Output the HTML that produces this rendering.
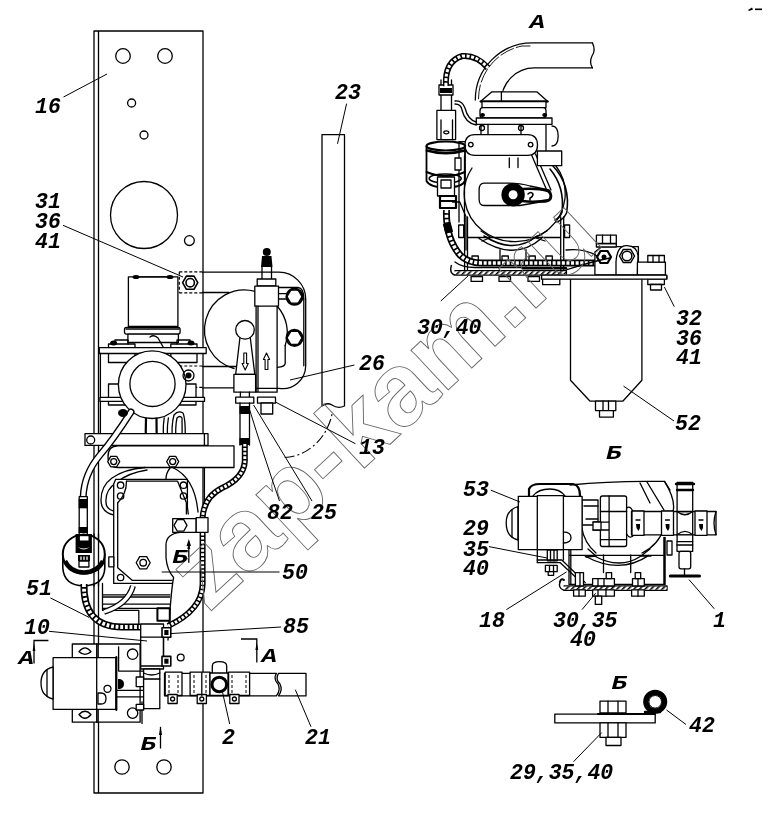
<!DOCTYPE html>
<html><head><meta charset="utf-8">
<style>
html,body{margin:0;padding:0;background:#fff;width:772px;height:815px;overflow:hidden}
svg{position:absolute;left:0;top:0;will-change:transform}
.l{fill:none;stroke:#000;stroke-width:1.3;stroke-linejoin:round;stroke-linecap:round}
.t{fill:none;stroke:#000;stroke-width:1}
.w{fill:#fff;stroke:#000;stroke-width:1.3;stroke-linejoin:round}
.k{fill:#000;stroke:none}
.d{fill:none;stroke:#000;stroke-width:1.2;stroke-dasharray:3 2}
text{font-family:"Liberation Mono",monospace;font-weight:bold;font-style:italic;font-size:21.5px;fill:#000}
text.s{font-size:20px}
.wm{font-family:"Liberation Sans",sans-serif;font-weight:bold;font-style:normal;font-size:103px;fill:none;stroke:#666;stroke-width:0.9}
</style></head>
<body>
<svg width="772" height="815" viewBox="0 0 772 815">
<defs><pattern id="hatch" patternUnits="userSpaceOnUse" width="4" height="4" patternTransform="rotate(45)"><rect width="4" height="4" fill="#fff"/><rect x="0" y="0" width="1.6" height="4" fill="#000"/></pattern></defs>
<!-- PLATE 16 -->
<g id="plate">
<path class="l" d="M94 31V793M98.5 31V793M94 31H203V793H94"/>
<circle class="l" cx="123" cy="56" r="7.3"/>
<circle class="l" cx="165" cy="56" r="7.3"/>
<circle class="l" cx="131.6" cy="103" r="4"/>
<circle class="l" cx="144" cy="135" r="4"/>
<circle class="l" cx="144" cy="215" r="33.5"/>
<circle class="l" cx="189.4" cy="240.6" r="4.9"/>
<circle class="l" cx="122" cy="767" r="7.2"/>
<circle class="l" cx="164" cy="767" r="7.2"/>
<circle class="l" cx="180.7" cy="657.5" r="3.4"/>
</g>
<!-- TUBE 23 -->
<path class="l" d="M322 406V134.7H344.5V406Q338 409 332 405Q327 402 322 406"/>

<!-- FUEL VALVE + BRACKET 26 -->
<g id="valve">
<path class="d" d="M179.3 271.8H202.5M179.3 292.8H202.5M179.3 271.8V292.8"/>
<path class="l" d="M202.5 272.2H279A27 27 0 0 1 305.7 299V365.8A23 23 0 0 1 279 388.3H255.6"/>
<path class="l" d="M303.8 299V365.8"/>
<path class="l" d="M202.5 292.5H229"/>
<path class="l" d="M202.5 366.5H236M202.5 387.8H234"/>
<path class="l" d="M255 291.3A40 40 0 1 0 234 368.5"/>
<path class="l" d="M277.5 306.5A40 40 0 0 1 285.2 345.5"/>
<path class="l" d="M285.2 345.5V363.4Q285 367 277.4 367.3"/>
<path class="l" d="M278.5 287.5H298Q303.8 288 303.8 299"/>
<!-- nuts right -->
<path class="l" d="M278.5 293.6H288M278.5 299H288"/>
<circle class="w" style="stroke-width:2.2" cx="294.5" cy="296.7" r="8"/><polygon class="l" points="302,296.7 298.2,303.2 290.8,303.2 287,296.7 290.8,290.2 298.2,290.2"/>
<circle class="w" style="stroke-width:2.2" cx="294.5" cy="337.9" r="8"/><polygon class="l" points="302,337.9 298.2,344.4 290.8,344.4 287,337.9 290.8,331.4 298.2,331.4"/>
<!-- spark-plug top -->
<circle class="k" cx="266.8" cy="252" r="4"/>
<path class="k" d="M262 256H271.5L272.5 267H261Z"/>
<path class="l" d="M262 267V279M271.5 267V279"/>
<rect class="w" x="257.2" y="279" width="18.6" height="7"/>
<!-- body -->
<rect class="w" x="254.8" y="286.2" width="23.7" height="20"/>
<path class="l" d="M256.1 306.2V392.2H277.1V306.2M258 306.2V392"/>
<!-- handle -->
<path class="w" d="M240 337L235.7 374.3H254.8L250.2 337Z"/>
<circle class="w" cx="245" cy="329.8" r="9.3"/>
<rect class="w" x="233.9" y="374.3" width="21.7" height="17.9"/>
<path class="w" style="stroke-width:1.1" d="M243.8 353H246.6V363.5H248.3L245.2 370L242.1 363.5H243.8Z"/>
<path class="w" style="stroke-width:1.1" d="M265.1 369.5H267.9V359.5H269.6L266.5 353L263.4 359.5H265.1Z"/>
<!-- fittings -->
<path class="l" d="M240.4 392.2V397.2M249.4 392.2V397.2"/>
<rect class="w" x="235.7" y="397.2" width="18.1" height="6"/>
<rect class="w" x="257.5" y="397.2" width="18" height="6"/>
<rect class="w" x="261" y="403" width="11.7" height="11"/>
<path class="l" d="M240 403V445M249.5 403V445"/>
<rect class="k" x="239.5" y="406" width="10.5" height="8"/>
<rect class="k" x="239.5" y="438" width="10.5" height="7"/>
</g>
<!-- ELECTROMAGNET + SENSOR -->
<g id="mag">
<polygon class="w" style="stroke-width:1.6" points="197.8,282.7 194,289.3 186.4,289.3 182.6,282.7 186.4,276.1 194,276.1"/>
<circle class="l" cx="190.2" cy="282.7" r="4.2" style="stroke-width:1.6"/>
<path class="d" d="M179.3 366H202.5M179.3 387.3H202.5M179.3 366V387.3"/>
<rect class="w" x="128.4" y="276.8" width="49.5" height="49.7"/>
<ellipse class="k" cx="136" cy="277" rx="3.5" ry="2"/>
<ellipse class="k" cx="170" cy="277" rx="3.5" ry="2"/>
<path class="l" d="M134 276.8H172"/>
<rect class="w" x="124.5" y="327.4" width="55.6" height="6.7" rx="2"/>
<path class="l" d="M126 329H179"/>
<rect class="w" x="127.9" y="334.1" width="50.5" height="8.4"/>
<path class="l" d="M150 337Q154 334 158 338Q162 345 166 352"/>
<rect class="w" x="108.5" y="344" width="26.5" height="18.5"/><rect class="w" x="170.8" y="344" width="26.2" height="18.5"/><path class="l" d="M115 344V340H128V344M177 344V340H190V344"/>
<ellipse class="k" cx="113.6" cy="343" rx="3.5" ry="2.5"/>
<ellipse class="k" cx="191" cy="343" rx="3.5" ry="2.5"/>
<rect class="w" x="99.3" y="347.6" width="106.9" height="5.9"/>
<path class="l" d="M100.4 353.5V433.6"/><rect class="w" x="108.5" y="384" width="17" height="21"/><rect class="w" x="179" y="384" width="17" height="21"/>
<rect class="w" x="100" y="397.4" width="104.5" height="4"/>
<circle class="w" cx="152.2" cy="384.7" r="33.8"/>
<circle class="l" cx="152.5" cy="383.9" r="22.6"/>
<circle class="k" cx="188.5" cy="375.5" r="3"/>
<circle class="l" cx="188.5" cy="375.5" r="5.5"/>
<path class="l" style="stroke-width:2.2" d="M146 418.7Q145 432 147 444.5M156.5 418.7Q156 432 158 444.5"/>
<path class="l" d="M164.2 418Q162 432 165 444.5M168.4 418Q166 432 169 444.5"/>
<path class="l" d="M172.5 444.5Q171 425 174 415Q178 410 183 413Q186 420 185 444.5M176 444.5Q175 426 177 418Q180 415 182 418Q182.5 430 181.5 444.5"/>
<rect class="w" x="85" y="433.6" width="123" height="11.8"/>
<circle class="l" cx="90.7" cy="440" r="4"/>

</g>
<!-- CONTROL BOX 50 + PUMP 51 -->
<g id="box">
<path class="l" d="M204.4 433.7V519"/>
<path class="w" d="M118 445.9H234V467.5H118Q108 467.5 108 456.7Q108 445.9 118 445.9Z"/>
<polygon class="w" points="119.7,461.6 116.7,466.8 110.7,466.8 107.7,461.6 110.7,456.4 116.7,456.4"/>
<circle class="l" cx="113.7" cy="461.6" r="3"/>
<polygon class="w" points="178.7,461.6 175.7,466.8 169.7,466.8 166.7,461.6 169.7,456.4 175.7,456.4"/>
<circle class="l" cx="172.7" cy="461.6" r="3"/>
<path class="l" d="M145 467.5Q125 469 112 478Q101 486 101 500Q101 512 113.7 515M147 470Q128 473 117 482Q105 490 106 502Q106 509 113.7 511"/>
<path class="l" d="M172.7 467.5Q195 478 198 512M170 468Q166 473 166 479"/>
<path class="w" d="M115.7 479.3H187.4V506.8L189 520V583.4H113.7V484Z"/>
<path class="l" d="M126.5 481.2H177.6L186.4 502.8V575M117.7 502.8V567.7L132.4 580.4H172"/>
<path class="l" d="M126.5 481.2Q126.5 494 117.7 502.8"/>
<circle class="l" cx="120.6" cy="485.2" r="3.2"/><circle class="l" cx="120.6" cy="496" r="3.2"/>
<circle class="l" cx="183.5" cy="485.2" r="3.2"/><circle class="l" cx="183.5" cy="496" r="3.2"/>
<circle class="l" cx="120.6" cy="577.5" r="3.2"/>
<polygon class="w" points="150.2,562.7 146.7,568.8 139.7,568.8 136.2,562.7 139.7,556.6 146.7,556.6"/>
<circle class="l" cx="143.2" cy="562.7" r="3.3"/>
<rect class="w" x="108.8" y="556.8" width="5" height="10"/>
<path class="w" style="stroke:none" d="M172.7 514.6H199V598H171.7Q171 590 173.6 577.5Q167 570 166 557.8V545Q166 534 180 532.3Z"/><path class="l" d="M180 532.3Q166 534 166 545V557.8Q167 570 173.6 577.5Q171 590 168 640"/>
<rect class="w" x="172.7" y="518.6" width="23.5" height="13.7"/>
<polygon class="w" points="187,525.4 183.7,531.2 177.3,531.2 174,525.4 177.3,519.6 183.7,519.6"/>
<!-- B arrow -->
<path class="t" style="stroke-width:1.3" d="M188.8 541.8V562.7"/>
<path class="k" d="M188.8 539L186.5 546H191Z"/>
<!-- below box -->
<path class="l" d="M102.5 583.4V610.4H138.8V624M103.5 594.9H169.8M103.5 597H169.8M103.5 604.2H169.8M103.5 608.3H169.8"/>
<path style="fill:none;stroke:#000;stroke-width:6" d="M133 586Q128 604 104 612"/>
<path style="fill:none;stroke:#fff;stroke-width:3.4" d="M133 586Q128 604 104 612"/>
<rect class="w" style="stroke-width:2" x="157.4" y="608.3" width="12.4" height="12.5"/>
<rect class="w" style="stroke-width:1.6" x="161.6" y="628" width="8.2" height="8.3"/><circle class="k" cx="165.7" cy="632" r="2"/>
<!-- hose 85 armored -->
<path style="fill:none;stroke:#000;stroke-width:6" d="M244.8 444V461Q244 478 222 488Q204 497 202.6 517.6V584.5Q202 610 168 626"/>
<path style="fill:none;stroke:#fff;stroke-width:3;stroke-dasharray:2.6 1.5" d="M244.8 444V461Q244 478 222 488Q204 497 202.6 517.6V584.5Q202 610 168 626"/>
<rect class="w" x="196.2" y="517.6" width="11.8" height="14.7"/>
<!-- pump ring 51 -->
<path style="fill:none;stroke:#000;stroke-width:7;stroke-linecap:round" d="M131 412Q113 440 100 455Q84 474 83.2 497"/>
<path style="fill:none;stroke:#fff;stroke-width:4.2;stroke-linecap:round" d="M131 412Q113 440 100 455Q84 474 83.2 497"/>
<ellipse class="k" cx="123" cy="413" rx="5" ry="4"/>
<rect class="w" x="79.2" y="496.6" width="8.1" height="39.7"/>
<rect class="k" x="78.7" y="499" width="9" height="9.3"/>
<rect class="k" x="78.7" y="527" width="9" height="6"/>
<path class="w" style="stroke-width:1.6" d="M62.8 554V568Q64 585.5 83.8 585.8Q104 585.5 104.8 568V554"/>
<ellipse class="w" style="stroke-width:2" cx="83.8" cy="554" rx="21" ry="19.6"/>
<path style="fill:none;stroke:#000;stroke-width:4.5" d="M65 561Q70 572 83.8 572.5Q98 572 103 561"/>
<path class="k" d="M75.6 534H91.9V553H75.6Z"/>
<rect x="79.9" y="536.2" width="8.6" height="4.3" fill="#fff"/>
<path d="M78 547Q83.8 552 89.5 547Q83.8 550 78 547Z" fill="#fff"/>
<rect class="w" x="79" y="561" width="9.9" height="6"/>
<path class="k" d="M78 555H90V561H78Z"/>
<path class="l" style="stroke:#fff" d="M81 557V559.5M84 557V559.5M87 557V559.5"/>
<path class="l" d="M94 534V586M98.5 534V586"/>
<!-- hose 51 armored -->
<path style="fill:none;stroke:#000;stroke-width:7" d="M84 584Q83 627 122 627H140"/>
<path style="fill:none;stroke:#fff;stroke-width:3.8;stroke-dasharray:2.8 1.8" d="M84 584Q83 627 122 627H140"/>
</g>
<!-- PUMP ASSEMBLY (bottom) -->
<g id="pump">
<rect class="w" x="72.3" y="644" width="67.8" height="78.2"/>
<path class="l" d="M96.7 644V722.2M98.2 644V722.2"/>
<path class="l" d="M79 651.7Q85 644 91 651.7Q85 657 79 651.7M79 714.5Q85 708 91 714.5Q85 722 79 714.5"/>
<circle class="w" cx="132.6" cy="654.2" r="5.2"/>
<circle class="w" cx="132.6" cy="713.1" r="5.2"/>
<path class="l" d="M118.6 646.8V671.1H143"/>
<rect class="w" x="53.1" y="657.7" width="62.8" height="51.7"/>
<path class="l" style="stroke-width:2" d="M116.4 657.1V710.1"/>
<path class="l" d="M96.7 657.7V709.4"/>
<path class="w" d="M53 667Q41 670 41 683Q41 696 53 699Z"/>
<path class="l" d="M47 670V696"/>
<circle class="l" cx="107.5" cy="688.8" r="3.5"/>
<path class="w" d="M98 693H101Q106 693 106 698.4Q106 704 101 704H98Z"/>
<path class="k" d="M118 679H120Q124 680 124 684Q124 688 120 689H118Z"/>
<path class="l" d="M117 690.3H142.9M117 696.9H142.9"/>
<path class="l" d="M142 702V723.4"/>
<!-- fuel valve 10 -->
<rect class="w" x="140.7" y="624" width="22.8" height="45"/>
<path class="l" d="M140.7 637.2H163.5M140.7 666H163.5"/>
<rect class="w" x="143.6" y="669" width="16.2" height="10.2"/>
<path class="l" d="M143.6 673Q151.7 677 159.8 673"/>
<rect class="w" x="136.2" y="677" width="7.4" height="9.6"/>
<rect class="w" x="143.6" y="679.2" width="16.2" height="29.5"/>
<rect class="w" x="136.2" y="704.3" width="7.4" height="5.7"/>
<rect class="w" style="stroke-width:1.6" x="162" y="627.7" width="8.8" height="9.5"/><rect class="k" x="164.3" y="630" width="4.2" height="5"/>
<rect class="w" style="stroke-width:1.6" x="162" y="656.4" width="8.8" height="9.6"/><rect class="k" x="164.3" y="658.7" width="4.2" height="5"/>
<path class="l" d="M163.5 637.2V656.4"/>
<!-- pipe 21 -->
<path class="w" d="M164.5 673.3H276.4Q273 679 278 684Q281 690 276.4 695.9H164.5Z"/>
<path class="w" d="M278.5 673.3H306V695.9H278.5Q283 690 280 684Q275 679 278.5 673.3Z"/>
<rect class="w" x="165.2" y="672.1" width="16.8" height="23.4"/>
<rect class="w" x="190.1" y="672.1" width="19.9" height="23.4"/>
<rect class="w" x="228.6" y="672.1" width="21" height="23.4"/>
<path class="d" style="stroke-width:1" d="M169 675V693M178 675V693M194 675V693M206 675V693M232 675V693M246 675V693"/>
<rect class="w" x="168" y="694.5" width="9.2" height="9"/><circle class="l" cx="172.6" cy="699" r="2"/>
<rect class="w" x="197.2" y="694.5" width="9.2" height="9"/><circle class="l" cx="201.8" cy="699" r="2"/>
<rect class="w" x="229.8" y="694.5" width="9.2" height="9"/><circle class="l" cx="234.4" cy="699" r="2"/>
<path class="w" d="M212.3 673V666Q212.3 661.7 219.5 661.7Q226.7 661.7 226.7 666V673"/>
<rect class="w" x="210" y="673" width="18" height="22.5"/>
<circle class="w" style="stroke-width:3" cx="219.3" cy="684.5" r="7.3"/>
<path class="l" d="M201.8 673V695.5"/>
</g>
<g id="marks">
<path class="t" style="stroke-width:1.3" d="M34 663.6V640.5H48.4M241 639H256.8V662.6M160.5 748.6V727"/>
<path class="k" d="M160.5 726L159 735H162Z"/>
<path class="k" d="M34 643L32.6 651H35.4Z"/>
<path class="k" d="M256.8 642L255.4 650H258.2Z"/>
<path class="k" d="M188.8 541L187.4 549H190.2Z"/>
<path class="k" d="M748 10L752 7.5L753 9.5L749 11Z"/>
<rect class="k" x="755" y="8.5" width="7" height="1.6"/>
</g>
<!-- VIEW A -->
<g id="viewA">
<!-- bend pipe -->
<path class="l" d="M592.4 42.9H532.3A57 57 0 0 0 475.3 100"/>
<path class="l" style="stroke-width:0.9" d="M530 46H522A54 54 0 0 0 478.5 100" stroke-dasharray="14 3"/>
<path class="l" d="M592.4 67.9H534.4A33 33 0 0 0 501.4 101"/>
<path class="l" d="M592.4 42.9Q596 50 592 56Q589 62 592.4 67.9"/>
<!-- cap -->
<path class="w" d="M491.9 91.8H536.8L547.8 101.5H480.5Z"/>
<path class="l" style="stroke-width:2" d="M480.5 101.5H547.8"/>
<rect class="w" x="482" y="101.5" width="64" height="6.2"/>
<rect class="w" x="480" y="107.7" width="66" height="10.3" rx="3"/>
<ellipse class="k" cx="482.5" cy="115" rx="2.5" ry="2"/><ellipse class="k" cx="544.7" cy="115" rx="2.5" ry="2"/>
<rect class="w" x="476.3" y="118" width="75.7" height="6.3"/>
<path class="l" d="M501.4 101V92"/>
<path class="l" d="M481 124.3V135M546 124.3V151M488 124.3V134M521 124.3V134"/>
<circle class="l" cx="482" cy="128" r="2.5"/><circle class="l" cx="521" cy="128" r="2.5"/>
<path class="l" d="M552 126Q558 126 558.2 136Q558 146 552 146"/>
<!-- cable S to cap -->
<path class="l" d="M455 101Q462 100 465 108Q468 120 476.3 122M455 104Q461 104 462 110Q465 123 476.3 125"/>
<!-- oval plate -->
<path class="w" d="M475 134.7H527.5Q537.5 134.7 537.5 145Q537.5 155.4 527.5 155.4H475Q465 155.4 465 145Q465 134.7 475 134.7Z"/>
<circle class="l" cx="470.8" cy="144.6" r="2.3"/><circle class="l" cx="530.6" cy="144.6" r="2.3"/>
<!-- body circle -->
<path class="l" d="M472 168A50.5 48 0 1 0 556 166"/>
<path class="l" d="M509.3 157.9V167.6M518 157.9V167.6"/>
<path class="l" d="M531.6 155L547.1 191M535.5 154L551 190"/>
<rect class="w" x="537.4" y="151" width="24.3" height="14.7"/>
<path class="l" style="stroke-width:1.6" d="M553 166Q571 185 566.6 213Q563 220 557 222M550 169Q565 187 562 212Q560 218 555 220"/>

<path class="l" d="M464.6 217V270M467.5 217V270M560.7 217V270M563.7 217V270M467.5 237.5H560.7"/>
<rect class="w" x="458.7" y="225" width="5" height="12.5"/><rect class="w" x="564.6" y="225" width="5" height="12.5"/>
<!-- lever -->
<path class="w" d="M484 183.1H508Q520 183 530 186L549 190Q553 194 551 199Q548 203 540 202L520 205.5H484Q479.1 205.5 479.1 199V190Q479.1 183.1 484 183.1Z"/>
<circle class="k" cx="513.1" cy="194.8" r="11.7"/>
<circle cx="513.1" cy="194.8" r="4.5" fill="#fff"/>
<path class="l" style="stroke-width:2.4" d="M522 189Q538 188 548 191Q553 195 549 200Q536 203 522 201"/>
<path class="l" style="stroke-width:1.5" d="M528 194Q531 191 533 194Q533 197 530 198V200"/>
<!-- strap bottom -->
<path class="l" style="stroke-width:1.5" d="M479.1 238.5Q514 262 541.3 238.5M484 236Q514 255 537 236"/>
<path class="l" d="M481 231L491 237.5L482 241M547 231L534.5 237.5L545 241"/>
<path class="l" d="M500 249.7V266M526 249.7V266"/>
<!-- plates -->
<path class="w" style="stroke-width:1.4" d="M454.5 270.8H566.4V275H454.5Q449 273 451.5 265"/>
<rect x="455" y="271.4" width="111" height="3" fill="url(#hatch)"/>
<path class="l" d="M541.6 276H666.8V278.7H541.6"/>
<rect class="w" x="471.1" y="276.6" width="11.4" height="4.8"/>
<rect class="w" x="499" y="276.6" width="11.5" height="4.8"/>
<rect class="w" x="528" y="276.6" width="11.5" height="4.8"/>
<rect class="w" x="542.6" y="278.7" width="17.2" height="6"/>
<rect class="w" x="472" y="256" width="6.3" height="6"/><rect class="w" x="502" y="256" width="6.3" height="6"/>
<rect class="w" x="529" y="256" width="6.3" height="6"/><rect class="w" x="546" y="256" width="6.3" height="6"/>
<!-- armored hose along plate -->

<path style="fill:none;stroke:#000;stroke-width:7" d="M446.5 210Q445.5 238 460 255Q468 263 482 263H598"/>
<path style="fill:none;stroke:#fff;stroke-width:3.6;stroke-dasharray:3 1.6" d="M446.5 210Q445.5 238 460 255Q468 263 482 263H598"/>
<path class="l" style="stroke-width:2.5" d="M523 268.3H566"/><path class="l" d="M455 262Q462 267.5 475 267.5H523"/>
<rect class="k" x="444" y="223" width="8" height="10" transform="rotate(-15 448 228)"/>
<!-- sensor ring unit -->
<path class="l" d="M441 80V110.4M451.5 80V110.4"/>
<rect class="w" x="436.9" y="110.4" width="18.7" height="29.2"/>
<path class="l" d="M441 119.8V139.6M452.5 119.8V139.6"/>
<ellipse class="l" cx="446.3" cy="132.3" rx="2.5" ry="1.5"/>
<path class="w" style="stroke-width:1.8" d="M426.5 146V181Q430 187.5 446 187.5Q462 187.5 465 181V146"/>
<ellipse class="w" style="stroke-width:2.2" cx="445.8" cy="146" rx="19.3" ry="4.5"/>
<path class="l" style="stroke-width:2.4" d="M426.8 150.5Q446 156 464.8 150.5"/>
<path class="l" style="stroke-width:2" d="M426.5 172Q446 180 465 172"/>
<ellipse class="l" style="stroke-width:1.6" cx="445.2" cy="178.5" rx="16" ry="4.5"/>
<path class="l" d="M459 141.7V222M459 141.7H465M464.5 156V222"/>
<rect class="w" x="455" y="158" width="6" height="12"/>
<rect class="w" x="437.5" y="177" width="17" height="19"/>
<rect class="w" x="441" y="180" width="10" height="8"/>
<rect class="w" style="stroke-width:2.2" x="440" y="196" width="16" height="12"/>
<path class="l" style="stroke-width:2.2" d="M440 201H456"/>
<path class="l" d="M452.5 202H459.8L466 216.7V250"/>
<rect class="w" x="439" y="85" width="14" height="10"/>
<rect class="k" x="440" y="88" width="12" height="5"/>
<!-- sensor cable top -->

<path style="fill:none;stroke:#000;stroke-width:6" d="M446 86Q444.5 61 462.5 56Q477 55 488 68"/>
<path style="fill:none;stroke:#fff;stroke-width:3;stroke-dasharray:3 1.6" d="M446 86Q444.5 61 462.5 56Q477 55 488 68"/>
</g>
<!-- FILTER 52 -->
<g id="filter">
<path class="l" d="M570.5 279V380.3L590.1 401.2H622.8L641.9 380.3V279"/>
<rect class="w" x="595.5" y="401.2" width="20.3" height="9.4"/>
<path class="l" d="M603 401.2V410.6M608.5 401.2V410.6"/>
<rect class="w" x="599.5" y="410.6" width="13.9" height="6.5"/>
<path class="w" d="M594.9 275V252L602 246.6H638.4V275Z"/>
<rect class="w" x="596.4" y="243.5" width="19.9" height="3.5"/>
<rect class="w" x="596.4" y="235.2" width="19.9" height="8.3"/>
<path class="l" d="M602.5 235.2V243.5M610.5 235.2V243.5"/>
<path class="w" d="M616 262Q617 245 627 245.6Q637.4 246 638 256L637.4 275H616Z"/>
<polygon class="w" style="stroke-width:1.5" points="634.5,256 630.8,262.5 623.2,262.5 619.5,256 623.2,249.5 630.8,249.5"/>
<circle class="l" style="stroke-width:1.5" cx="627" cy="256" r="4.8"/>
<rect class="w" x="637.4" y="262.2" width="28" height="12.8"/>
<rect class="w" x="647.8" y="255.5" width="16.6" height="6.7"/>
<path class="l" d="M653 255.5V262.2M659 255.5V262.2"/>
<rect class="w" x="647.8" y="279" width="16.6" height="5.5"/>
<rect class="w" x="650.5" y="284.5" width="11" height="5.5"/>
<path class="w" d="M541.6 275.2H666.8V279.2H541.6Z"/>
<polygon class="w" style="stroke-width:2.2" points="611,257 607.5,263 600.5,263 597,257 600.5,251 607.5,251"/>
<circle class="k" cx="604" cy="257" r="2.5"/>
<path class="l" d="M566 250Q585 248 597 256M566 270Q590 262 610 258"/>
</g>
<!-- VIEW B (middle right) -->
<g id="viewB">
<!-- body top outline -->
<path class="l" d="M570 485Q610 481 653.8 481.4H664.5L670 490"/>
<path class="l" d="M640 483L650 503M647 482L664 510"/>
<path class="l" d="M664.5 481.4Q676 500 673 511.5"/>
<!-- big arc -->
<path class="l" d="M581.7 527A42 42 0 0 0 596 553M664 528A42 42 0 0 1 642 553"/>
<path class="l" d="M585.3 556.3Q620 575 648.8 555.4M594.4 556Q620 570 641 556"/>
<path class="l" d="M588 549L596 556L586 557M650 549L641 556L651 556"/>
<!-- nozzle piece left of flange -->
<path class="w" d="M582 500H598V525H582Z"/>
<path class="l" d="M584 506H598M586 519H598"/>
<!-- flange -->
<rect class="w" x="600.4" y="496" width="26.2" height="50.5" rx="2"/>
<path class="l" d="M609.1 496V546.5M600.4 511.5H626.6M593 522.2H609M593 530H609M600.4 539.7H626.6"/>
<rect class="w" x="593" y="522" width="8" height="8"/>
<path class="l" d="M626.6 508Q630 505 633 511.5M626.6 534Q630 540 634 534.8"/>
<!-- pipe -->
<rect class="w" x="631.5" y="511.5" width="84.5" height="23.3"/>
<path class="l" d="M716 511.5Q712 523 716 534.8"/>
<rect class="w" x="632" y="511" width="12" height="24.3"/>
<rect class="w" x="661.5" y="511" width="12" height="24.3"/>
<rect class="w" x="695" y="511" width="12" height="24.3"/>
<path class="k" d="M636 524H640V528L638.5 531L636.5 528Z"/><path class="k" d="M665.5 524H669.5V528L668 531L666 528Z"/><path class="k" d="M699 524H703V528L701.5 531L699.5 528Z"/>
<path class="l" d="M636 520H640M665.5 520H669.5M699 520H703"/>
<!-- T fitting -->
<rect class="w" x="677.1" y="482.3" width="15.6" height="29.2"/>
<path class="l" style="stroke-width:2.4" d="M676 484H694M677 490H693"/>
<path class="w" d="M677.1 511.5Q685 518 692.7 511.5V534.8Q685 528 677.1 534.8Z"/>
<rect class="w" x="677.1" y="534.8" width="15.6" height="6.8"/>
<rect class="w" x="677" y="541.6" width="15.7" height="9.7"/>
<path class="l" d="M677 545H692.7"/>
<rect class="w" x="679" y="551.3" width="11.7" height="17.5" rx="2"/>
<path class="l" style="stroke-width:3" d="M670.3 576H699.5"/>
<path class="l" d="M684.5 568.8V576"/>
<!-- right bracket -->
<path class="l" d="M569 550V584.4H665.1V537.3M570.8 550V583.5M663.9 537.3V583.5M569 555.4H665"/>
<path class="l" d="M603.5 555V572.6M630.7 555V572.6"/>
<rect class="w" x="667" y="541" width="5" height="14"/>
<!-- solenoid 53 -->
<path class="l" style="stroke-width:2.2" d="M529 496V489Q531 484 540 484H573Q580 485 580 496"/>
<path class="l" d="M533 496Q538 489 550 489Q560 489 565 496"/>
<path class="w" d="M518 506.5Q506.2 510 506.2 523Q506.2 537 518 540Z"/>
<path class="l" d="M512 510V537"/>
<rect class="w" x="518.3" y="496.4" width="63.8" height="53.2"/>
<rect class="w" x="537.3" y="495.6" width="26.1" height="54"/>
<path class="l" d="M563.4 532.2Q571 532 571 537.6Q571 543 563.4 543"/>
<path class="l" d="M537.3 549.6V562.6M563.4 549.6V560"/>
<rect class="w" x="547.3" y="550" width="9.9" height="10.8"/>
<path class="l" d="M550.5 550V560.8M554 550V560.8"/>
<rect class="w" x="545.4" y="565.4" width="11.8" height="6.3"/>
<rect class="w" x="548.2" y="571.7" width="5.4" height="3.6"/>
<path class="l" d="M549.5 565.4V571.7M553.5 565.4V571.7"/>
<!-- bracket 18 -->
<path class="l" style="stroke-width:1.3" d="M537.3 562.6H560L583.5 584.4M537.3 560H561.8L585.3 582.6"/>
<!-- hatched plate -->
<path class="w" style="stroke-width:1.4" d="M563.6 586H667V590.2H563.6Q558 588 560 581.7"/>
<rect x="564" y="586.6" width="102.5" height="3" fill="url(#hatch)"/>
<path class="l" style="stroke-width:2" d="M560 581.7Q561 578 564 580"/>
<rect class="w" x="575.4" y="572.6" width="8.1" height="13.4"/>
<rect class="w" x="592.6" y="578.6" width="21.8" height="7.4"/>
<rect class="w" x="606.2" y="572.6" width="5.4" height="6"/>
<rect class="w" x="632.5" y="578.6" width="11.8" height="7.4"/>
<rect class="w" x="635.2" y="572.6" width="5.5" height="6"/>
<path class="l" d="M598 578.6V586M604 578.6V586M638 578.6V586M580 572.6V586"/>
<rect class="w" x="573.6" y="589.8" width="11.7" height="6.4"/>
<rect class="w" x="592.6" y="589.8" width="21.8" height="6.4"/>
<rect class="w" x="595.3" y="596.2" width="6.4" height="8.2"/>
<rect class="w" x="631.6" y="589.8" width="12.7" height="6.4"/>
<path class="l" d="M579 589.8V596.2M598 589.8V596.2M606 589.8V596.2M638 589.8V596.2"/>
</g>
<!-- VIEW B (bottom) -->
<g id="viewC">
<rect class="w" x="554.8" y="714.1" width="100.4" height="8.8"/>
<path class="l" style="stroke-width:2" d="M598 714.1H655"/>
<rect class="w" x="600" y="701.2" width="26" height="11.8"/>
<path class="l" d="M608 701.2V713M618 701.2V713"/>
<rect class="w" x="600" y="722.9" width="26" height="14.5"/>
<path class="l" d="M608 722.9V737.4M618 722.9V737.4"/>
<rect class="w" x="606" y="737.4" width="15" height="8.1"/>
<circle cx="655.2" cy="701.8" r="9.3" fill="none" stroke="#000" stroke-width="5.5"/>
<circle cx="655.2" cy="701.8" r="6.3" fill="#fff" stroke="#000" stroke-width="1"/>
<path class="l" style="stroke-width:2.5" d="M645 712H660"/>
</g>
<!-- WATERMARK -->
<text class="wm" transform="translate(208.5 613.5) rotate(-43)">zap-kam.ru</text>
<path style="fill:none;stroke:#000;stroke-width:1.1;stroke-dasharray:10 3 2 3" d="M284.7 457.5C305 457 328 440 332.6 411"/>
<!-- LABELS -->
<g id="labels">
<text x="35" y="112.5">16</text>
<text x="335" y="99">23</text>
<text x="35" y="208">31</text>
<text x="35" y="228">36</text>
<text x="35" y="248">41</text>
<text x="359" y="370">26</text>
<text x="359" y="453.5">13</text>
<text x="267" y="518.5">82</text>
<text x="311" y="518.5">25</text>
<text x="282" y="579">50</text>
<text x="26" y="595">51</text>
<text x="24" y="633.5">10</text>
<text x="283" y="633">85</text>
<text class="s" transform="translate(18.5 663.5) scale(1.3 1)">A</text>
<text class="s" transform="translate(261.5 661.5) scale(1.3 1)">A</text>
<text class="s" transform="translate(140.5 749.5) scale(1.3 1)">Б</text>
<text class="s" transform="translate(172.3 563.0) scale(1.3 1)">Б</text>
<text x="222" y="743.5">2</text>
<text x="305" y="743.5">21</text>
<text class="s" transform="translate(529.5 27.7) scale(1.3 1)">A</text>
<text x="417" y="334">30,40</text>
<text x="676" y="324.5">32</text>
<text x="676" y="345">36</text>
<text x="676" y="364">41</text>
<text x="675" y="430">52</text>
<text class="s" transform="translate(606.0 459) scale(1.3 1)">Б</text>
<text x="463" y="495.5">53</text>
<text x="463" y="535">29</text>
<text x="463" y="555.5">35</text>
<text x="463" y="575">40</text>
<text x="479" y="626.5">18</text>
<text x="553" y="626.5">30,35</text>
<text x="570" y="646">40</text>
<text x="713" y="626.5">1</text>
<text class="s" transform="translate(611.5 689.0) scale(1.3 1)">Б</text>
<text x="689" y="732">42</text>
<text x="510" y="778.5">29,35,40</text>
</g>
<!-- LEADERS -->
<g id="leaders" class="t">
<path d="M63.5 97L107 74"/>
<path d="M346.6 103.6L337.5 143.8"/>
<path d="M63 225.3L183 277"/>
<path d="M354.4 365L290 380"/>
<path d="M355.4 443.7L275.9 402.3"/>
<path d="M279.5 501Q262 450 249.7 410"/>
<path d="M312 501L253.6 405"/>
<path d="M279.5 572H161.7"/>
<path d="M50.4 597.9L89.3 617.5"/>
<path d="M49 631.3L147 641"/>
<path d="M281 627L170 633.6"/>
<path d="M229.7 724L222.6 692.6"/>
<path d="M311 726.8L295.3 689.7"/>
<path d="M674.3 306.7L664.4 287"/>
<path d="M440.8 301L468 276"/>
<path d="M674 421L623.5 386.1"/>
<path d="M490.8 490.2L520 502"/>
<path d="M488.9 546.6L547 558"/>
<path d="M506.4 609.6L566.6 571.9"/>
<path d="M582 609.6L595.7 593.2"/>
<path d="M714.3 608.8L689 579.6"/>
<path d="M686 724.5L666.5 710"/>
<path d="M573.5 761.7L601.7 732.6"/>
</g>
</svg>
</body></html>
